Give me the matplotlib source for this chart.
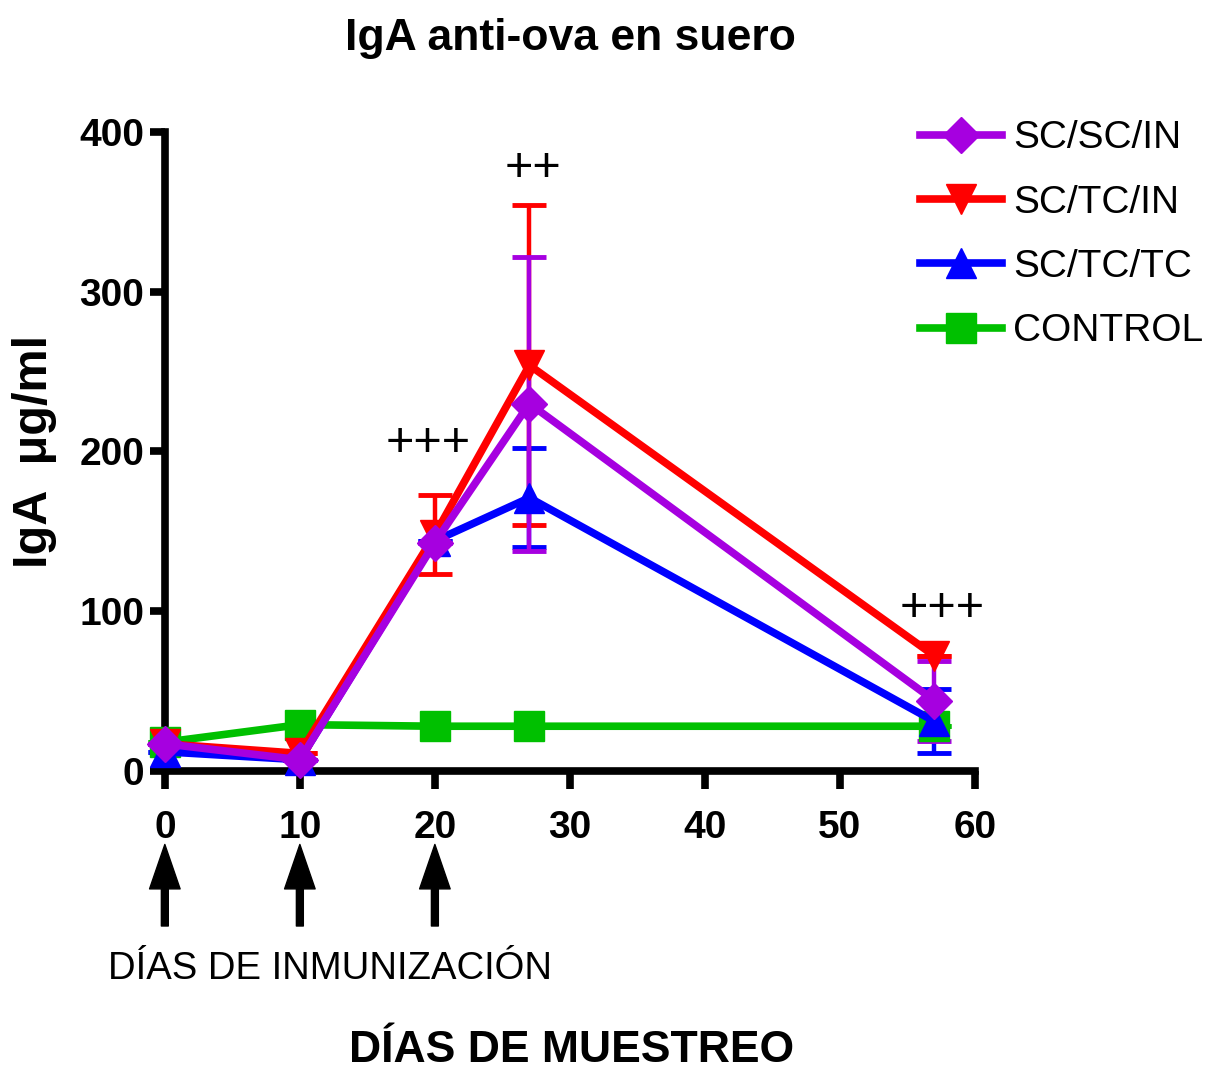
import numpy as np
import matplotlib
matplotlib.use("Agg")
import matplotlib.pyplot as plt

plt.rcParams['font.family'] = ['Liberation Sans', 'DejaVu Sans']

# sampling days
days = [0, 10, 20, 27, 57]

# IgA ug/ml per group
sc_sc_in = [17, 7, 143, 230, 44]
sc_sc_in_err = [0, 0, 0, 92, 25]
sc_tc_in = [17, 11, 148, 254, 72]
sc_tc_in_err = [0, 0, 25, 100, 0]
sc_tc_tc = [12, 7, 144, 171, 31]
sc_tc_tc_err = [0, 0, 0, 31, 20]
control = [18, 29, 28, 28, 28]
control_err = [0, 0, 0, 0, 0]

immun_days = [0, 10, 20]

# significance marks (x, y, text)
marks_x = [19.5, 27.3, 57.6]
marks_y = [205, 377, 102]
marks_txt = ['+++', '++', '+++']

fig = plt.figure(figsize=(12.21, 10.73), dpi=100)
ax = fig.add_axes([0.135, 0.2815, 0.6635, 0.5955])

series = [
    ('CONTROL', control, control_err, '#00c000', 's'),
    ('SC/TC/TC', sc_tc_tc, sc_tc_tc_err, '#0000ff', '^'),
    ('SC/TC/IN', sc_tc_in, sc_tc_in_err, '#ff0000', 'v'),
    ('SC/SC/IN', sc_sc_in, sc_sc_in_err, '#a600e0', 'D'),
]
handles = {}
for name, vals, err, col, mk in series:
    ms = 22 if mk != 'D' else 18
    ax.errorbar(days, vals, yerr=err, color=col, lw=5.5, elinewidth=3.2,
                capsize=12, capthick=3.5, marker=mk, ms=ms, mec=col,
                clip_on=False, zorder=3)
    handles[name] = plt.Line2D([], [], color=col, lw=5.5, marker=mk, ms=ms, mec=col)

ax.set_xlim(0, 60)
ax.set_ylim(0, 400)
ax.set_xticks([0, 10, 20, 30, 40, 50, 60])
ax.set_yticks([0, 100, 200, 300, 400])
for s in ['top', 'right']:
    ax.spines[s].set_visible(False)
for s in ['left', 'bottom']:
    ax.spines[s].set_linewidth(5.5)
ax.tick_params(width=5.5, labelsize=28)
ax.tick_params(axis='x', length=13, pad=15)
ax.tick_params(axis='y', length=11, pad=4)
for lab in ax.get_xticklabels() + ax.get_yticklabels():
    lab.set_fontweight('bold')

for x, y, t in zip(marks_x, marks_y, marks_txt):
    ax.text(x, y, t, fontsize=35, ha='center', va='center')

ax.set_ylabel('IgA  μg/ml', fontsize=35, fontweight='bold', labelpad=16)
fig.text(0.467, 0.964, 'IgA anti-ova en suero', fontsize=32, fontweight='bold',
         ha='center', va='center')
fig.text(0.468, 0.021, 'DÍAS DE MUESTREO', fontsize=32, fontweight='bold',
         ha='center', va='center')
fig.text(0.27, 0.097, 'DÍAS DE INMUNIZACIÓN', fontsize=27.5, ha='center', va='center')

for d in immun_days:
    ax.annotate('', xy=(d, 0.213), xytext=(d, 0.137),
                xycoords=('data', 'figure fraction'),
                textcoords=('data', 'figure fraction'),
                arrowprops=dict(facecolor='black', edgecolor='black', width=5,
                                headwidth=22, headlength=32))

order = ['SC/SC/IN', 'SC/TC/IN', 'SC/TC/TC', 'CONTROL']
fig.legend([handles[n] for n in order], order, loc='upper left',
           bbox_to_anchor=(0.7535, 0.888), frameon=False, fontsize=28,
           handlelength=2.1, labelspacing=0.73, handletextpad=0.3, borderpad=0,
           borderaxespad=0)

fig.savefig('out.png', dpi=100)
